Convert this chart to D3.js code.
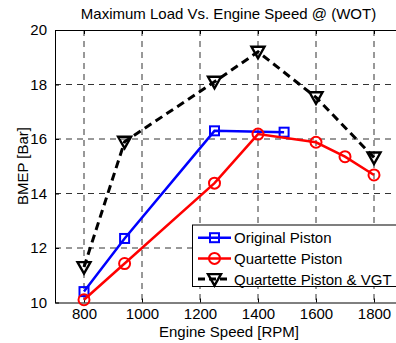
<!DOCTYPE html>
<meta charset="utf-8">
<style>
  body { margin: 0; background: #fff; }
  svg { display: block; font-family: "Liberation Sans", Arial, sans-serif; }
</style>
<body>
<div id="chart"></div>
<script src="https://d3js.org/d3.v7.min.js"></script>
<script>
  // data
  const rpmOriginal = [800, 940, 1250, 1490];
  const bmepOriginal = [10.4, 12.35, 16.3, 16.25];
  const rpmQuartette = [800, 940, 1250, 1400, 1600, 1700, 1800];
  const bmepQuartette = [10.1, 11.43, 14.38, 16.18, 15.88, 15.35, 14.68];
  const rpmVgt = [800, 940, 1250, 1400, 1600, 1800];
  const bmepVgt = [11.3, 15.9, 18.1, 19.2, 17.53, 15.32];
  const xTicks = [800, 1000, 1200, 1400, 1600, 1800];
  const yTicks = [10, 12, 14, 16, 18, 20];
  const seriesNames = ["Original Piston", "Quartette Piston", "Quartette Piston & VGT"];

  const W = 396, H = 343;
  const m = { left: 55, top: 30, right: 403, bottom: 302.5 };

  const svg = d3.select("#chart").append("svg")
    .attr("width", W).attr("height", H);

  const x = d3.scaleLinear().domain([700, 1900]).range([m.left, m.right]);
  const y = d3.scaleLinear().domain([10, 20]).range([m.bottom, m.top]);

  // grid
  const grid = svg.append("g").attr("stroke", "#333").attr("stroke-width", 1)
    .attr("stroke-dasharray", "6,5");
  grid.selectAll(".vx").data(xTicks).join("line")
    .attr("x1", d => x(d)).attr("x2", d => x(d))
    .attr("y1", m.top).attr("y2", m.bottom);
  grid.selectAll(".hy").data(yTicks.slice(1, -1)).join("line")
    .attr("y1", d => y(d)).attr("y2", d => y(d))
    .attr("x1", m.left).attr("x2", m.right);

  // axes
  const fs = "15px";
  svg.append("g").attr("transform", `translate(0,${m.bottom})`)
    .call(d3.axisBottom(x).tickValues(xTicks).tickFormat(d3.format("d"))
      .tickSizeInner(-4).tickSizeOuter(0).tickPadding(6))
    .call(g => g.selectAll("text").attr("font-size", fs).attr("fill", "#000"))
    .call(g => g.selectAll("line, path").attr("stroke", "#000"));
  svg.append("g").attr("transform", `translate(0,${m.top})`)
    .call(d3.axisTop(x).tickValues(xTicks).tickSizeInner(-4).tickSizeOuter(0).tickFormat(""))
    .call(g => g.selectAll("line, path").attr("stroke", "#000"));
  svg.append("g").attr("transform", `translate(${m.left},0)`)
    .call(d3.axisLeft(y).tickValues(yTicks).tickSizeInner(-4).tickSizeOuter(0).tickPadding(8))
    .call(g => g.selectAll("text").attr("font-size", fs).attr("fill", "#000"))
    .call(g => g.selectAll("line, path").attr("stroke", "#000"));

  // labels
  svg.append("text").attr("x", 228.5).attr("y", 19).attr("text-anchor", "middle")
    .attr("font-size", fs).text("Maximum Load Vs. Engine Speed @ (WOT)");
  svg.append("text").attr("x", 229).attr("y", 337).attr("text-anchor", "middle")
    .attr("font-size", fs).text("Engine Speed [RPM]");
  svg.append("text").attr("transform", "translate(28,166) rotate(-90)")
    .attr("text-anchor", "middle").attr("font-size", fs).text("BMEP [Bar]");

  // markers
  function marker(g, kind, color, cx, cy) {
    if (kind === "square") {
      g.append("rect").attr("x", cx - 4.5).attr("y", cy - 4.5).attr("width", 9).attr("height", 9)
        .attr("fill", "none").attr("stroke", color).attr("stroke-width", 2);
    } else if (kind === "circle") {
      g.append("circle").attr("cx", cx).attr("cy", cy).attr("r", 5.5)
        .attr("fill", "none").attr("stroke", color).attr("stroke-width", 2);
    } else {
      g.append("path").attr("d", `M${cx - 6.5},${cy - 5}L${cx + 6.5},${cy - 5}L${cx},${cy + 6.5}Z`)
        .attr("fill", "none").attr("stroke", color).attr("stroke-width", 2.4);
    }
  }

  const series = [
    { xs: rpmOriginal, ys: bmepOriginal, color: "#0000ff", dash: null, kind: "square", w: 2.5 },
    { xs: rpmQuartette, ys: bmepQuartette, color: "#ff0000", dash: null, kind: "circle", w: 2.5 },
    { xs: rpmVgt, ys: bmepVgt, color: "#000", dash: "8,5", kind: "tri", w: 3 }
  ];
  const line = d3.line().x(d => x(d[0])).y(d => y(d[1]));
  series.forEach(s => {
    const pts = s.xs.map((v, i) => [v, s.ys[i]]);
    const g = svg.append("g");
    g.append("path").attr("d", line(pts)).attr("fill", "none")
      .attr("stroke", s.color).attr("stroke-width", s.w)
      .attr("stroke-dasharray", s.dash);
    pts.forEach(p => marker(g, s.kind, s.color, x(p[0]), y(p[1])));
  });

  // legend
  const lg = svg.append("g");
  lg.append("rect").attr("x", 192.5).attr("y", 225).attr("width", 210).attr("height", 61.5)
    .attr("fill", "#fff").attr("stroke", "#000").attr("stroke-width", 1);
  series.forEach((s, i) => {
    const ly = 237.7 + i * 20.7;
    lg.append("line").attr("x1", 198).attr("x2", 231).attr("y1", ly).attr("y2", ly)
      .attr("stroke", s.color).attr("stroke-width", s.w).attr("stroke-dasharray", s.dash ? "7,4" : null);
    marker(lg, s.kind, s.color, 214.5, ly);
    lg.append("text").attr("x", 234).attr("y", ly + 5.5).attr("font-size", fs)
      .text(seriesNames[i]);
  });
</script>
</body>
